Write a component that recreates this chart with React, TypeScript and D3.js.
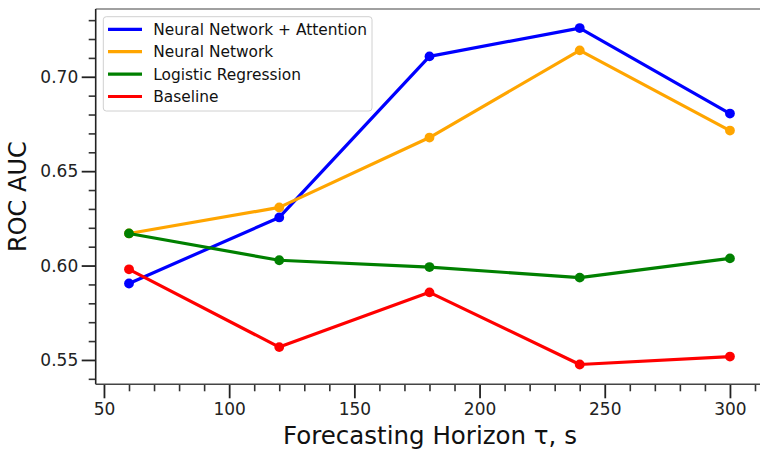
import React, { useEffect, useRef } from 'react'
import * as d3 from 'd3'

// forecasting horizons (s)
const horizons = [60, 120, 180, 240, 300]

const seriesNames = ['Neural Network + Attention', 'Neural Network', 'Logistic Regression', 'Baseline']
const seriesColors = ['#0000ff', '#ffa500', '#008000', '#ff0000']

const attentionAuc = [0.5905, 0.6255, 0.7108, 0.7258, 0.6805]
const networkAuc = [0.617, 0.6308, 0.6678, 0.714, 0.6715]
const logisticAuc = [0.617, 0.6028, 0.5992, 0.5936, 0.6038]
const baselineAuc = [0.598, 0.5568, 0.5858, 0.5476, 0.5518]

const xTicks = [50, 100, 150, 200, 250, 300]
const yTicks = [0.55, 0.6, 0.65, 0.7]

const W = 760
const H = 450
const FONT = 'DejaVu Sans, sans-serif'

function Chart() {
  const ref = useRef<SVGSVGElement>(null)

  useEffect(() => {
    const svg = d3.select(ref.current)
    svg.selectAll('*').remove()

    const left = 95.7, right = 760, top = 9, bottom = 384.3

    const x = d3.scaleLinear().domain([46.7, 312]).range([left, right])
    const y = d3.scaleLinear().domain([0.5371, 0.7359]).range([bottom, top])

    const allSeries = [attentionAuc, networkAuc, logisticAuc, baselineAuc]

    const line = d3.line<number>()
      .x((_, i) => x(horizons[i]))
      .y(d => y(d))

    // data
    allSeries.forEach((vals, s) => {
      const g = svg.append('g')
      g.append('path')
        .datum(vals)
        .attr('d', line)
        .attr('fill', 'none')
        .attr('stroke', seriesColors[s])
        .attr('stroke-width', 3.2)
        .attr('stroke-linejoin', 'round')
      g.selectAll('circle')
        .data(vals)
        .join('circle')
        .attr('cx', (_, i) => x(horizons[i]))
        .attr('cy', d => y(d))
        .attr('r', 4.9)
        .attr('fill', seriesColors[s])
    })

    // minor ticks
    const xMinor = d3.range(50, 311, 10).filter(v => v % 50 !== 0)
    const yMinor = d3.range(54, 74).map(v => v / 100).filter(v => Math.round(v * 100) % 5 !== 0)

    svg.append('g')
      .attr('transform', `translate(0,${bottom})`)
      .call(d3.axisBottom(x).tickValues(xMinor).tickSize(7).tickFormat(() => ''))
      .call(g => g.select('.domain').remove())
      .call(g => g.selectAll('line').attr('stroke', '#333').attr('stroke-width', 1.6))

    svg.append('g')
      .attr('transform', `translate(${left},0)`)
      .call(d3.axisLeft(y).tickValues(yMinor).tickSize(7).tickFormat(() => ''))
      .call(g => g.select('.domain').remove())
      .call(g => g.selectAll('line').attr('stroke', '#333').attr('stroke-width', 1.6))

    // major ticks
    svg.append('g')
      .attr('transform', `translate(0,${bottom})`)
      .call(d3.axisBottom(x).tickValues(xTicks).tickSize(14).tickPadding(4.6).tickFormat(d3.format('d')))
      .call(g => g.select('.domain').remove())
      .call(g => g.selectAll('line').attr('stroke', '#222').attr('stroke-width', 1.8))
      .call(g => g.selectAll('text').attr('font-family', FONT).attr('font-size', 17).attr('fill', '#222'))

    svg.append('g')
      .attr('transform', `translate(${left},0)`)
      .call(d3.axisLeft(y).tickValues(yTicks).tickSize(14).tickPadding(3.5).tickFormat(d3.format('.2f')))
      .call(g => g.select('.domain').remove())
      .call(g => g.selectAll('line').attr('stroke', '#222').attr('stroke-width', 1.8))
      .call(g => g.selectAll('text').attr('font-family', FONT).attr('font-size', 17).attr('fill', '#222'))

    // spines
    svg.append('line')
      .attr('x1', left).attr('x2', right).attr('y1', top).attr('y2', top)
      .attr('stroke', '#808080').attr('stroke-width', 1.6)
    svg.append('line')
      .attr('x1', left).attr('x2', left).attr('y1', top).attr('y2', bottom)
      .attr('stroke', '#222').attr('stroke-width', 1.6)
    svg.append('line')
      .attr('x1', left).attr('x2', right).attr('y1', bottom).attr('y2', bottom)
      .attr('stroke', '#444').attr('stroke-width', 1.6)

    // axis labels
    svg.append('text')
      .attr('x', 430).attr('y', 444.3)
      .attr('text-anchor', 'middle')
      .attr('font-family', FONT).attr('font-size', 24.5).attr('fill', '#111')
      .text('Forecasting Horizon τ, s')

    svg.append('text')
      .attr('transform', `translate(26,${(top + bottom) / 2}) rotate(-90)`)
      .attr('text-anchor', 'middle')
      .attr('font-family', FONT).attr('font-size', 24).attr('fill', '#111')
      .text('ROC AUC')

    // legend
    const lg = svg.append('g')
    lg.append('rect')
      .attr('x', 103.3).attr('y', 16.7)
      .attr('width', 268.7).attr('height', 94.3)
      .attr('rx', 3)
      .attr('fill', 'white').attr('fill-opacity', 0.85)
      .attr('stroke', '#d0d0d0').attr('stroke-width', 1)

    const rowY = d3.scaleLinear().domain([0, 3]).range([29.3, 96.5])
    seriesNames.forEach((name, i) => {
      lg.append('line')
        .attr('x1', 108).attr('x2', 142)
        .attr('y1', rowY(i)).attr('y2', rowY(i))
        .attr('stroke', seriesColors[i]).attr('stroke-width', 3.2)
      lg.append('text')
        .attr('x', 153.3).attr('y', rowY(i))
        .attr('dy', '0.36em')
        .attr('font-family', FONT).attr('font-size', 15.4).attr('fill', '#111')
        .text(name)
    })
  }, [])

  return <svg ref={ref} width={W} height={H} style={{ position: 'absolute', left: 0, top: 0, background: 'white' }} />
}

export default function App() {
  return <Chart />
}
